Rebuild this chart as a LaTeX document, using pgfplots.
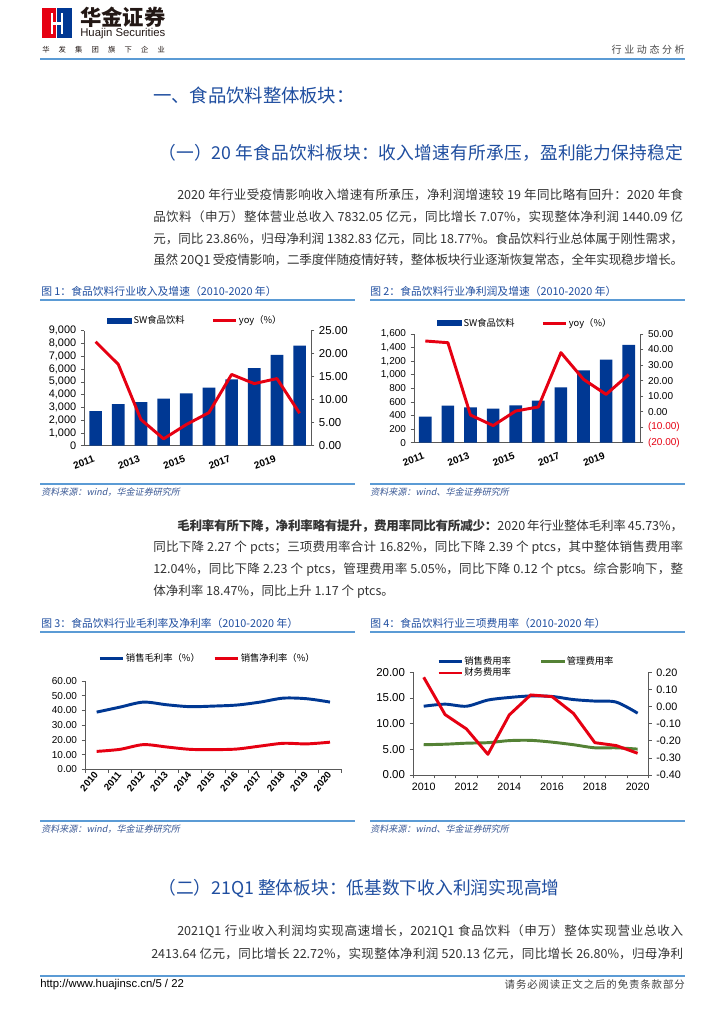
\documentclass[border=0pt]{standalone}
\usepackage{fontspec}
\setmainfont{Noto Sans CJK SC}
\newfontfamily\arial{Liberation Sans}
\newfontfamily\cjkit[FakeSlant=0.2]{Noto Sans CJK SC}
\usepackage{pgfplots}
\pgfplotsset{compat=1.18}
% inter-character stretch for CJK justification
\newcount\cjkcc
\cjkcc="4E00
\loop \XeTeXcharclass\cjkcc=5 \advance\cjkcc by 1 \ifnum\cjkcc<"A000 \repeat
\cjkcc="3000
\loop \XeTeXcharclass\cjkcc=5 \advance\cjkcc by 1 \ifnum\cjkcc<"3040 \repeat
\cjkcc="FF01
\loop \XeTeXcharclass\cjkcc=5 \advance\cjkcc by 1 \ifnum\cjkcc<"FF60 \repeat
\XeTeXinterchartokenstate=1
\XeTeXinterchartoks 5 5 = {\hskip 0pt plus 1pt minus 0.2pt}

\definecolor{navy}{RGB}{0,56,147}
\definecolor{redl}{RGB}{230,0,18}
\definecolor{greenl}{RGB}{84,130,53}
\definecolor{tblue}{RGB}{31,78,160}
\definecolor{rulec}{RGB}{91,155,213}
\definecolor{srcblue}{RGB}{60,90,150}
\definecolor{logotxt}{RGB}{35,24,21}

\pgfplotsset{
  base/.style={scale only axis, anchor=south west, clip=false,
    axis line style={draw=black!65, line width=0.5pt},
    tick style={draw=black!65, line width=0.5pt},
    tick align=outside, major tick length=2.5pt,
    tick label style={font=\arial\fontsize{7.5}{9}\selectfont, text=black},
    /pgf/number format/assume math mode=true,
    scaled y ticks=false,
    legend style={draw=none, fill=none, inner sep=0pt, font=\fontsize{7}{8}\selectfont, nodes={inner sep=1pt}},
    legend cell align=left},
  barleg/.style={legend image code/.code={\fill[navy] (0pt,-2.3pt) rectangle (19pt,2.3pt);}},
  redleg/.style={legend image code/.code={\draw[redl, line width=2.2pt] (0pt,0pt) -- (17.5pt,0pt);}},
  blueleg/.style={legend image code/.code={\draw[navy, line width=2.2pt] (0pt,0pt) -- (17.5pt,0pt);}},
  greenleg/.style={legend image code/.code={\draw[greenl, line width=2.2pt] (0pt,0pt) -- (17.5pt,0pt);}},
  twod/.style={/pgf/number format/.cd, fixed, fixed zerofill, precision=2},
}

\begin{document}
\begin{tikzpicture}
\begin{scope}[x=0.75pt, y=-0.75pt]
\path[fill=white] (0,0) rectangle (724,1024);
% header logo
\fill[redl] (41.7,8.3) rectangle (56.2,38.3);
\fill[navy] (57.3,8.3) rectangle (71.7,38.3);
\fill[white] (51,13) rectangle (53.2,33.6);
\fill[white] (60.8,13) rectangle (63,33.6);
\fill[white] (51,21.8) rectangle (63,24.8);
\node[anchor=west, inner sep=0pt, font=\bfseries\fontsize{16}{18}\selectfont, text=logotxt] at (80,17.5) {华金证券};
\node[anchor=west, inner sep=0pt, font=\arial\fontsize{8.5}{10}\selectfont, text=logotxt] at (80,33.5) {Huajin Securities};
\node[anchor=west, inner sep=0pt, font=\fontsize{5.5}{6}\selectfont, text=logotxt] at (42,50) {\hbox to 92pt{华\hfil 发\hfil 集\hfil 团\hfil 旗\hfil 下\hfil 企\hfil 业}};
\node[anchor=east, inner sep=0pt, font=\fontsize{7.5}{9}\selectfont, text=black!70] at (685,50) {\hbox to 54.75pt{行\hfil 业\hfil 动\hfil 态\hfil 分\hfil 析}};
\draw[rulec, line width=1.5pt] (40,58.7) -- (685,58.7);

% titles
\node[anchor=west, inner sep=0pt, font=\fontsize{13.8}{16}\selectfont, text=tblue] at (153,95) {\makebox[151pt][s]{一、食品饮料整体板块：}};
\node[anchor=west, inner sep=0pt, font=\fontsize{13.3}{16}\selectfont, text=tblue] at (158,153) {\makebox[393.75pt][s]{（一）20 年食品饮料板块：收入增速有所承压，盈利能力保持稳定}};

% paragraph 1
\begin{scope}[every node/.style={anchor=west, inner sep=0pt, font=\fontsize{9.4}{11}\selectfont, text=black!80}]
\node at (177,194.5) {\makebox[379.5pt][s]{2020 年行业受疫情影响收入增速有所承压，净利润增速较 19 年同比略有回升：2020 年食}};
\node at (153,216.5) {\makebox[397.5pt][s]{品饮料（申万）整体营业总收入 7832.05 亿元，同比增长 7.07\%，实现整体净利润 1440.09 亿}};
\node at (153,238.5) {\makebox[397.5pt][s]{元，同比 23.86\%，归母净利润 1382.83 亿元，同比 18.77\%。食品饮料行业总体属于刚性需求，}};
\node at (153,260.5) {\makebox[397.5pt][s]{虽然 20Q1 受疫情影响，二季度伴随疫情好转，整体板块行业逐渐恢复常态，全年实现稳步增长。}};
% paragraph 2
\node at (177,526) {\makebox[379.5pt][s]{{\bfseries 毛利率有所下降，净利率略有提升，费用率同比有所减少：}2020 年行业整体毛利率 45.73\%，}};
\node at (153,548) {\makebox[397.5pt][s]{同比下降 2.27 个 pcts；三项费用率合计 16.82\%，同比下降 2.39 个 ptcs，其中整体销售费用率}};
\node at (153,570) {\makebox[397.5pt][s]{12.04\%，同比下降 2.23 个 ptcs，管理费用率 5.05\%，同比下降 0.12 个 ptcs。综合影响下，整}};
\node at (153,592) {体净利率 18.47\%，同比上升 1.17 个 ptcs。};
% paragraph 3
\node at (177,931.5) {\makebox[379.5pt][s]{2021Q1 行业收入利润均实现高速增长，2021Q1 食品饮料（申万）整体实现营业总收入}};
\node at (151,953.5) {\makebox[399pt][s]{2413.64 亿元，同比增长 22.72\%，实现整体净利润 520.13 亿元，同比增长 26.80\%，归母净利}};
\end{scope}

\node[anchor=west, inner sep=0pt, font=\fontsize{13.3}{16}\selectfont, text=tblue] at (158,889) {（二）21Q1 整体板块：低基数下收入利润实现高增};

% figure titles and rules
\begin{scope}[every node/.style={anchor=west, inner sep=0pt, font=\fontsize{8.1}{10}\selectfont, text=tblue}]
\node at (41,291.5) {图 1：食品饮料行业收入及增速（2010-2020 年）};
\node at (370,291.5) {图 2：食品饮料行业净利润及增速（2010-2020 年）};
\node at (41,623.5) {图 3：食品饮料行业毛利率及净利率（2010-2020 年）};
\node at (370,623.5) {图 4：食品饮料行业三项费用率（2010-2020 年）};
\end{scope}
\draw[rulec, line width=1pt] (40,300) -- (355,300);
\draw[rulec, line width=1pt] (370,300) -- (685,300);
\draw[rulec, line width=1pt] (40,484) -- (355,484);
\draw[rulec, line width=1pt] (370,484) -- (685,484);
\draw[rulec, line width=1pt] (40,632) -- (355,632);
\draw[rulec, line width=1pt] (370,632) -- (685,632);
\draw[rulec, line width=1pt] (40,821) -- (355,821);
\draw[rulec, line width=1pt] (370,821) -- (685,821);
\begin{scope}[every node/.style={anchor=west, inner sep=0pt, font=\cjkit\fontsize{6.8}{8}\selectfont, text=srcblue}]
\node at (41,492) {资料来源：wind，华金证券研究所};
\node at (370,492) {资料来源：wind、华金证券研究所};
\node at (41,829) {资料来源：wind，华金证券研究所};
\node at (370,829) {资料来源：wind、华金证券研究所};
\end{scope}

% footer
\draw[rulec, line width=1.2pt] (40,976) -- (685,976);
\node[anchor=west, inner sep=0pt, font=\arial\fontsize{8.5}{10}\selectfont, text=black] at (40,984.5) {http://www.huajinsc.cn/5 / 22};
\node[anchor=east, inner sep=0pt, font=\fontsize{7.8}{9}\selectfont, text=black!75] at (685,984.5) {\makebox[135pt][s]{请务必阅读正文之后的免责条款部分}};
\end{scope}

% ---------- Chart 1 ----------
\begin{axis}[base, at={(63.2pt,-334.3pt)}, width=170pt, height=86.25pt,
  xmin=0.5, xmax=10.5, ymin=0, ymax=9000,
  axis x line*=bottom, axis y line*=left,
  ytick={0,1000,2000,3000,4000,5000,6000,7000,8000,9000},
  yticklabel style={font=\arial\fontsize{8.2}{9}\selectfont, /pgf/number format/1000 sep={,}},
  xtick={1,3,5,7,9}, xticklabels={2011,2013,2015,2017,2019},
  x tick label style={rotate=20, anchor=north east, font=\arial\bfseries\fontsize{7.5}{9}\selectfont},
  x tick style={draw=none},
  legend style={at={(0.099,1.087)}, anchor=west, legend columns=2, /tikz/every even column/.append style={column sep=19pt}},
]
\addplot[ybar, bar width=9.5pt, fill=navy, draw=none, barleg] coordinates {
(1,2710) (2,3260) (3,3420) (4,3680) (5,4100) (6,4540) (7,5190) (8,6080) (9,7120) (10,7832.05)};
\addlegendentry{SW食品饮料}
\addlegendimage{redleg}
\addlegendentry{yoy（\%）}
\end{axis}
\begin{axis}[base, at={(63.2pt,-334.3pt)}, width=170pt, height=86.25pt,
  xmin=0.5, xmax=10.5, ymin=0, ymax=25,
  axis y line*=right, axis x line=none,
  ytick={0,5,10,15,20,25}, yticklabel style={font=\arial\fontsize{8.6}{9}\selectfont, twod},
]
\addplot[redl, line width=2.2pt, line join=round] coordinates {
(1,22.6) (2,17.7) (3,5.7) (4,1.5) (5,4.6) (6,7.2) (7,15.5) (8,13.5) (9,14.6) (10,7.07)};
\end{axis}

% ---------- Chart 2 ----------
\begin{axis}[base, at={(310.5pt,-332pt)}, width=169.5pt, height=81.5pt,
  xmin=0.5, xmax=10.5, ymin=0, ymax=1600,
  axis x line*=bottom, axis y line*=left,
  ytick={0,200,400,600,800,1000,1200,1400,1600},
  yticklabel style={/pgf/number format/1000 sep={,}},
  xtick={1,3,5,7,9}, xticklabels={2011,2013,2015,2017,2019},
  x tick label style={rotate=20, anchor=north east, font=\arial\bfseries\fontsize{7.5}{9}\selectfont},
  x tick style={draw=none},
  legend style={at={(0.100,1.098)}, anchor=west, legend columns=2, /tikz/every even column/.append style={column sep=19pt}},
]
\addplot[ybar, bar width=9.5pt, fill=navy, draw=none, barleg] coordinates {
(1,383) (2,545) (3,520) (4,500) (5,550) (6,618) (7,815) (8,1065) (9,1222) (10,1440.09)};
\addlegendentry{SW食品饮料}
\addlegendimage{redleg}
\addlegendentry{yoy（\%）}
\end{axis}
\begin{axis}[base, at={(310.5pt,-332pt)}, width=169.5pt, height=81.5pt,
  xmin=0.5, xmax=10.5, ymin=-20, ymax=50,
  axis y line*=right, axis x line=none,
  ytick={-20,-10,0,10,20,30,40,50},
  yticklabels={{\textcolor{redl}{(20.00)}},{\textcolor{redl}{(10.00)}},0.00,10.00,20.00,30.00,40.00,50.00},
]
\addplot[redl, line width=2.2pt, line join=round] coordinates {
(1,45.5) (2,44.4) (3,-2.2) (4,-9.0) (5,0.4) (6,3.0) (7,38.0) (8,20.8) (9,11.1) (10,23.86)};
\end{axis}

% ---------- Chart 3 ----------
\begin{axis}[base, at={(63.75pt,-577pt)}, width=192.5pt, height=66.2pt,
  xmin=-0.5, xmax=10.5, ymin=0, ymax=60,
  axis x line*=bottom, axis y line*=left,
  ytick={0,10,20,30,40,50,60}, yticklabel style={twod},
  xtick={-0.5,0.5,1.5,2.5,3.5,4.5,5.5,6.5,7.5,8.5,9.5,10.5}, x tick label as interval,
  xticklabels={2010,2011,2012,2013,2014,2015,2016,2017,2018,2019,2020},
  x tick label style={rotate=50, anchor=east, inner sep=0.5pt, font=\arial\bfseries\fontsize{7.3}{9}\selectfont},
  legend style={at={(0.051,1.26)}, anchor=west, legend columns=2, /tikz/every even column/.append style={column sep=9pt}},
]
\addplot[navy, line width=2.2pt, smooth, blueleg] coordinates {
(0,38.9) (1,42.3) (2,45.7) (3,43.9) (4,42.6) (5,43.0) (6,43.7) (7,45.7) (8,48.4) (9,48.0) (10,45.73)};
\addlegendentry{销售毛利率（\%）}
\addplot[redl, line width=2.2pt, smooth, redleg] coordinates {
(0,12.2) (1,13.6) (2,16.8) (3,15.2) (4,13.6) (5,13.4) (6,13.8) (7,15.8) (8,17.7) (9,17.3) (10,18.47)};
\addlegendentry{销售净利率（\%）}
\end{axis}

% ---------- Chart 4 ----------
\begin{axis}[base, at={(309.75pt,-581.25pt)}, width=176.5pt, height=77pt,
  xmin=-0.5, xmax=10.5, ymin=0, ymax=20,
  axis x line*=bottom, axis y line*=left,
  ytick={0,5,10,15,20}, yticklabel style={font=\arial\fontsize{8.6}{9}\selectfont, twod},
  xtick={-0.5,0.5,1.5,2.5,3.5,4.5,5.5,6.5,7.5,8.5,9.5,10.5}, x tick label as interval,
  xticklabels={2010,{},2012,{},2014,{},2016,{},2018,{},2020},
  x tick label style={font=\arial\fontsize{8}{9}\selectfont},
  legend style={at={(0.102,1.164)}, anchor=north west, legend columns=2, nodes={inner sep=0.6pt}, /tikz/every even column/.append style={column sep=21pt}},
]
\addplot[navy, line width=2.2pt, smooth, blueleg] coordinates {
(0,13.4) (1,13.8) (2,13.4) (3,14.6) (4,15.1) (5,15.4) (6,15.3) (7,14.7) (8,14.4) (9,14.2) (10,12.04)};
\addlegendentry{销售费用率}
\addplot[greenl, line width=2.2pt, smooth, greenleg] coordinates {
(0,5.9) (1,6.0) (2,6.2) (3,6.3) (4,6.7) (5,6.75) (6,6.4) (7,5.9) (8,5.3) (9,5.3) (10,5.05)};
\addlegendentry{管理费用率}
\addlegendimage{redleg}
\addlegendentry{财务费用率}
\end{axis}
\begin{axis}[base, at={(309.75pt,-581.25pt)}, width=176.5pt, height=77pt,
  xmin=-0.5, xmax=10.5, ymin=-0.4, ymax=0.2,
  axis y line*=right, axis x line=none,
  ytick={-0.4,-0.3,-0.2,-0.1,0,0.1,0.2}, yticklabel style={font=\arial\fontsize{8.1}{9}\selectfont, twod},
]
\addplot[redl, line width=2.2pt, line join=round] coordinates {
(0,0.171) (1,-0.047) (2,-0.131) (3,-0.279) (4,-0.049) (5,0.068) (6,0.058) (7,-0.040) (8,-0.211) (9,-0.228) (10,-0.273)};
\end{axis}
\end{tikzpicture}
\end{document}
